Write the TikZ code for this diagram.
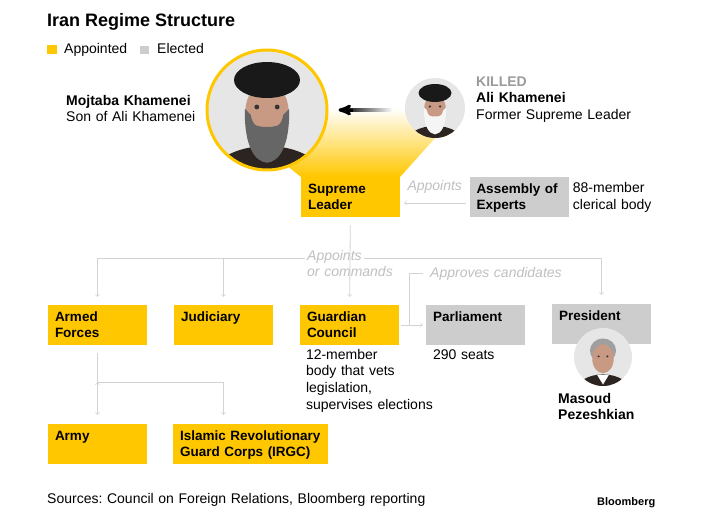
\documentclass[tikz,border=0pt]{standalone}
\usepackage{fontspec}
\setmainfont{Liberation Sans}
\usepackage{tikz}
\usetikzlibrary{arrows,calc,backgrounds}
\frenchspacing

\definecolor{yl}{HTML}{FFC700}
\definecolor{gy}{HTML}{CDCDCD}
\definecolor{lc}{HTML}{D3D3D3}
\definecolor{lt}{HTML}{BFBFBF}
\definecolor{kl}{HTML}{9A9A9A}
\definecolor{pb}{HTML}{E6E6E6}
\definecolor{skin}{HTML}{C89A84}
\definecolor{robe}{HTML}{2C2420}

\begin{document}
\begin{tikzpicture}[x=1pt,y=-1pt,>=to,node distance=126pt,
  every node/.style={font=\fontsize{14}{16.7}\selectfont},
  box/.style={rectangle,fill=yl,minimum width=99pt,minimum height=40pt,
    text width=85pt,inner xsep=7pt,inner ysep=2pt,text height=14pt,
    text depth=22pt,align=left,font=\fontsize{13.5}{16.7}\selectfont\bfseries},
  vote/.style={box,fill=gy},
  note/.style={anchor=base west,align=left,inner sep=0pt,text width=#1},
  note/.default=170pt,
  link/.style={draw=lc,line width=0.8pt},
  hint/.style={font=\fontsize{14}{16.7}\selectfont\itshape,text=lt,inner sep=2pt},
  photo/.style={circle,fill=pb,inner sep=0pt,minimum size=#1},
  cleric/.pic={
    \fill[robe] (0,1.15) ellipse (0.95 and 0.55);
    \fill[skin] (0,0.02) ellipse (0.36 and 0.47);
    \fill[#1] (-0.37,-0.02) .. controls (-0.38,0.62) and (-0.2,0.86) .. (0,0.88)
      .. controls (0.2,0.86) and (0.38,0.62) .. (0.37,-0.02) -- (0.27,0.08)
      .. controls (0.24,0.3) and (0.12,0.28) .. (0,0.28)
      .. controls (-0.12,0.28) and (-0.24,0.3) .. (-0.27,0.08) -- cycle;
    \fill[black!90] (0,-0.5) ellipse (0.55 and 0.3);
    \fill[black!80] (-0.17,-0.05) circle (0.04) (0.17,-0.05) circle (0.04);
  },
  civil/.pic={
    \fill[robe] (0,1.2) ellipse (0.95 and 0.6);
    \fill[white] (-0.2,0.62) -- (0.2,0.62) -- (0,0.95) -- cycle;
    \fill[gray!75] (0,-0.22) ellipse (0.45 and 0.42);
    \fill[skin] (0,0.06) ellipse (0.37 and 0.5);
    \fill[black!80] (-0.15,-0.02) circle (0.04) (0.15,-0.02) circle (0.04);
  }]
  \useasboundingbox (0,0) rectangle (724,525);

  \node[anchor=base west,inner sep=0pt,font=\fontsize{18}{20}\selectfont\bfseries] (title) at (47,26) {Iran Regime Structure};
  \node[fill=yl,minimum width=10pt,minimum height=9pt,inner sep=0pt] (keya) at (52,49) {};
  \node[note=70pt] (keyatxt) at (64,53) {Appointed};
  \node[fill=gy,minimum width=9pt,minimum height=8pt,inner sep=0pt] (keye) at (144.5,50) {};
  \node[note=60pt] (keyetxt) at (157,53) {Elected};

  \node[photo=120pt,draw=yl,line width=3pt,
    path picture={\pic[scale=60] at (path picture bounding box.center) {cleric=black!60};}] (mojtaba) at (267,110) {};
  \node[photo=60pt,
    path picture={\pic[scale=30] at (path picture bounding box.center) {cleric=white!92!gray};}] (ali) at (435,108) {};
  \node[note=140pt] (mname) at (66,105) {\textbf{Mojtaba Khamenei}\\Son of Ali Khamenei};
  \node[note] (aname) at (476,86) {\textcolor{kl}{\textbf{KILLED}}\\\textbf{Ali Khamenei}\\Former Supreme Leader};

  \node[box] (leader) at (350.5,197) {Supreme\\Leader};
  \node[vote] (assembly) [right of=leader,node distance=168.5pt] {Assembly of\\Experts};
  \node[note=110pt] (clerics) at ([xshift=4pt,yshift=-16pt]assembly.north east) {88-member\\clerical body};

  \begin{scope}[on background layer]
    \shade[top color=white,bottom color=yl] (mojtaba.center) -- (mojtaba.-69) -- (leader.north west)
      -- (leader.north east) -- (ali.south) -- (ali.center) -- cycle;
  \end{scope}
  \shade[left color=black,right color=white] ([xshift=14pt,yshift=1.5pt]mojtaba.east)
    rectangle ([xshift=-12pt,yshift=-1.5pt]ali.west |- mojtaba.east);
  \draw[->,>=stealth',line width=3pt] ([xshift=24pt]mojtaba.east) -- ([xshift=10pt]mojtaba.east);

  \node[box] (armed) at (97.5,325) {Armed\\Forces};
  \node[box] (judiciary) [right of=armed] {Judiciary};
  \node[box] (guardian) [right of=judiciary] {Guardian\\Council};
  \node[vote] (parliament) [right of=guardian] {Parliament};
  \node[vote] (president) [right of=parliament,yshift=1pt] {President};
  \node[box] (army) [below of=armed,node distance=119pt] {Army};
  \node[box,text width=141pt] (irgc) at (250.5,444) {Islamic Revolutionary\\Guard Corps (IRGC)};

  \node[note=140pt] (vets) at ([xshift=6pt,yshift=-14pt]guardian.south west) {12-member\\body that vets\\legislation,\\supervises elections};
  \node[note=90pt] (seats) at ([xshift=7pt,yshift=-14pt]parliament.south west) {290 seats};
  \node[photo=58pt,
    path picture={\pic[scale=29] at (path picture bounding box.center) {civil};}] (masoud) at (603,357) {};
  \node[note=100pt,font=\fontsize{14}{16.7}\selectfont\bfseries] (mname2) at (558,403) {Masoud\\Pezeshkian};

  \node[hint,note=100pt] (cmd) at (307,260) {Appoints\\or commands};
  \coordinate (bus) at (leader |- 0,258);
  \draw[link,->,shorten >=8pt] ([xshift=-2pt]cmd.west |- bus) -| (armed);
  \draw[link,->,shorten >=8pt] ([xshift=-2pt]cmd.west |- bus) -| (judiciary);
  \draw[link,->,shorten >=9pt] ([xshift=57pt]cmd.west |- bus) -| (president);
  \draw[link,->,shorten <=8pt,shorten >=8pt] (leader) -- (guardian);

  \node[hint,note=140pt] (approves) at (430,277) {Approves candidates};
  \draw[link] ([xshift=-7pt]approves.west) -| ($(guardian.east)!0.4!(parliament.west)$);

  \coordinate (fork) at ($(armed.south)+(0,37)$);
  \path[link,->]
    ([yshift=-6pt]assembly.west) edge[shorten <=3pt,shorten >=4pt] node[hint,above=7pt] {Appoints} ([yshift=-6pt]leader.east)
    (guardian) edge[shorten <=2pt,shorten >=3pt] (parliament)
    (fork) edge[shorten >=9pt] (army);
  \draw[link] ([yshift=-8pt]armed.south) -- (fork);
  \draw[link,->,shorten >=9pt] (fork) -| (judiciary |- irgc.north);

  \node[note=400pt] (src) at (47,503) {Sources: Council on Foreign Relations, Bloomberg reporting};
  \node[note=70pt,font=\fontsize{11}{13}\selectfont\bfseries] (logo) at (597,505) {Bloomberg};
\end{tikzpicture}
\end{document}
